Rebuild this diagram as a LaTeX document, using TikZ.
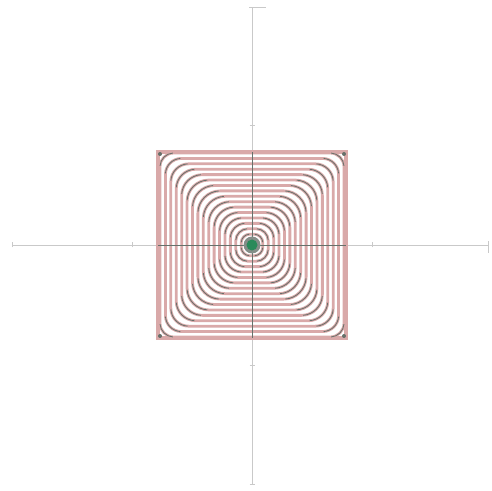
\documentclass[tikz,border=0pt]{standalone}
\begin{document}
\definecolor{axisgray}{HTML}{C9C9C9}
\definecolor{ringpink}{HTML}{D9A9A9}
\definecolor{ringdark}{HTML}{66706A}
\definecolor{dotgreen}{HTML}{2A8A5A}
\tikzset{
  axisline/.style={draw=axisgray, line width=0.8pt},
  tickline/.style={draw=axisgray, line width=0.8pt},
  pinkline/.style={draw=ringpink, line width=2.8pt},
  darkarc/.style={draw=ringdark, line width=0.8pt},
}
\begin{tikzpicture}[x=1pt,y=1pt]
\useasboundingbox (0,0) rectangle (492,490);
\begin{scope}[shift={(252,245)}]
  % axes
  \coordinate (xl) at (-240,0);
  \coordinate (xr) at (236,0);
  \coordinate (yb) at (0,-239);
  \coordinate (yt) at (0,238);
  \draw[axisline] (xl) -- (xr);
  \draw[axisline] (yb) -- (yt);
  % ticks
  \foreach \t in {-120,120}{
    \draw[tickline] (\t,-2.5) -- (\t,2.5);
    \draw[tickline] (-2.5,\t) -- (2.5,\t);
  }
  \draw[tickline] (236,-8) -- (236,4);
  \draw[tickline] (-240,-2.5) -- (-240,2.5);
  \draw[tickline] (-3,238) -- (14,238);
  \draw[tickline] (-2.5,-239) -- (2.5,-239);
  % outer square
  \draw[pinkline, line width=3.4pt] (-94,-93) rectangle (94,93);
  % rings
  \foreach \k in {1,...,17}{
    \pgfmathsetmacro{\a}{92*\k/17}
    \pgfmathsetmacro{\r}{\a*(1-0.85*(\k/17)^0.7)}
    \pgfmathsetmacro{\c}{\a-\r}
    \draw[pinkline, rounded corners=\r pt] (-\a pt,-\a pt) rectangle (\a pt,\a pt);
    \draw[darkarc] ([shift={(\c pt,\c pt)}]4:\r pt) arc[start angle=4,end angle=86,radius=\r pt];
    \draw[darkarc] ([shift={(-\c pt,\c pt)}]94:\r pt) arc[start angle=94,end angle=176,radius=\r pt];
    \draw[darkarc] ([shift={(-\c pt,-\c pt)}]184:\r pt) arc[start angle=184,end angle=266,radius=\r pt];
    \draw[darkarc] ([shift={(\c pt,-\c pt)}]274:\r pt) arc[start angle=274,end angle=356,radius=\r pt];
  }
  % axes through square, darker
  \draw[draw=ringdark, line width=0.8pt] (-94,0) -- (94,0);
  \draw[draw=ringdark, line width=0.8pt] (0,-93) -- (0,93);
  % corner marks
  \foreach \sx/\sy in {1/1,-1/1,-1/-1,1/-1}{
    \fill[ringdark] (\sx*92,\sy*91) circle[radius=2pt];
  }
  % centre dot
  \node[circle, fill=ringdark!80, minimum size=17pt, inner sep=0pt] (ring0) at (0,0) {};
  \node[circle, fill=dotgreen, minimum size=11pt, inner sep=0pt] (dot) at (0,0) {};
\end{scope}
\end{tikzpicture}
\end{document}
